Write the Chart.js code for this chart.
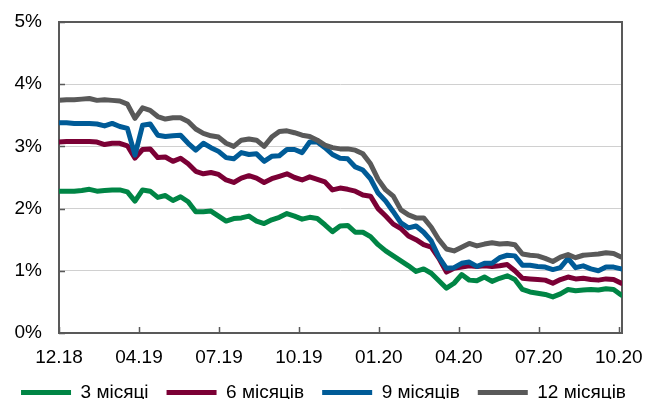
<!DOCTYPE html>
<html>
<head>
<meta charset="utf-8">
<script src="https://cdn.jsdelivr.net/npm/chart.js@4.4.1/dist/chart.umd.min.js"></script>
<style>
  html, body { margin: 0; padding: 0; background: #fff; }
  #wrap { width: 647px; height: 399px; }
</style>
</head>
<body>
<div id="wrap"><canvas id="ratesChart"></canvas></div>
<script>
/* ── Data ───────────────────────────────────────────── */
const TICK_LABELS  = ['12.18', '04.19', '07.19', '10.19', '01.20', '04.20', '07.20', '10.20'];
const SERIES_NAMES = ['3 місяці', '6 місяців', '9 місяців', '12 місяців'];
const STEP = 0.095;   // distance between points, in quarters

const m3 = [
  2.28, 2.28, 2.28, 2.29, 2.31, 2.28, 2.29, 2.30, 2.30, 2.27,
  2.12, 2.30, 2.28, 2.18, 2.21, 2.13, 2.19, 2.11, 1.95, 1.95,
  1.96, 1.88, 1.80, 1.84, 1.85, 1.88, 1.80, 1.76, 1.82, 1.86,
  1.92, 1.88, 1.83, 1.86, 1.84, 1.74, 1.63, 1.72, 1.73, 1.62,
  1.62, 1.55, 1.42, 1.32, 1.24, 1.16, 1.08, 0.99, 1.03, 0.96,
  0.84, 0.72, 0.80, 0.94, 0.85, 0.84, 0.90, 0.83, 0.88, 0.92,
  0.86, 0.70, 0.66, 0.64, 0.62, 0.58, 0.63, 0.70, 0.68, 0.69,
  0.70, 0.69, 0.71, 0.70, 0.61
];
const m6 = [
  3.07, 3.08, 3.08, 3.08, 3.08, 3.07, 3.03, 3.05, 3.05, 3.01,
  2.81, 2.95, 2.96, 2.82, 2.83, 2.76, 2.81, 2.72, 2.60, 2.56,
  2.58, 2.55, 2.46, 2.42, 2.49, 2.53, 2.49, 2.42, 2.48, 2.52,
  2.56, 2.50, 2.46, 2.51, 2.47, 2.43, 2.30, 2.33, 2.31, 2.28,
  2.22, 2.20, 2.00, 1.88, 1.75, 1.68, 1.56, 1.50, 1.42, 1.38,
  1.20, 0.98, 1.04, 1.06, 1.08, 1.07, 1.08, 1.07, 1.08, 1.10,
  1.00, 0.88, 0.87, 0.86, 0.85, 0.80, 0.86, 0.90, 0.87, 0.88,
  0.86, 0.85, 0.87, 0.86, 0.80
];
const m9 = [
  3.38, 3.38, 3.37, 3.37, 3.37, 3.36, 3.33, 3.37, 3.32, 3.29,
  2.86, 3.34, 3.36, 3.18, 3.16, 3.17, 3.18, 3.05, 2.94, 3.05,
  2.98, 2.92, 2.82, 2.80, 2.90, 2.87, 2.88, 2.76, 2.84, 2.85,
  2.95, 2.95, 2.90, 3.07, 3.07, 2.98, 2.87, 2.81, 2.80, 2.67,
  2.62, 2.48, 2.25, 2.12, 1.95, 1.77, 1.69, 1.72, 1.62, 1.48,
  1.22, 1.04, 1.05, 1.12, 1.14, 1.07, 1.12, 1.12, 1.21, 1.25,
  1.24, 1.09, 1.09, 1.07, 1.06, 1.02, 1.05, 1.20, 1.05, 1.08,
  1.03, 1.00, 1.06, 1.06, 1.03
];
const m12 = [
  3.74, 3.75, 3.75, 3.76, 3.77, 3.74, 3.75, 3.74, 3.73, 3.68,
  3.45, 3.62, 3.58, 3.48, 3.44, 3.46, 3.46, 3.40, 3.28, 3.21,
  3.17, 3.15, 3.05, 3.00, 3.10, 3.12, 3.10, 3.00, 3.15, 3.24,
  3.25, 3.22, 3.18, 3.16, 3.10, 3.02, 2.98, 2.96, 2.96, 2.94,
  2.88, 2.72, 2.47, 2.30, 2.20, 1.98, 1.90, 1.85, 1.85, 1.70,
  1.50, 1.35, 1.32, 1.38, 1.44, 1.40, 1.43, 1.45, 1.43, 1.44,
  1.42, 1.27, 1.25, 1.24, 1.20, 1.15, 1.22, 1.26, 1.21, 1.25,
  1.26, 1.27, 1.29, 1.28, 1.22
];

/* ── Styles ─────────────────────────────────────────── */
const GREEN = '#008545';
const WINE  = '#7b0035';
const BLUE  = '#005b97';
const GREY  = '#595959';
const AXIS  = '#595959';
const FONT  = "Arial, 'Liberation Sans', sans-serif";

const toPoints = arr => arr.map((v, i) => ({ x: i * STEP, y: v }));

function line(label, data, color, order) {
    return {
        label,
        data: toPoints(data),
        borderColor:      color,
        backgroundColor:  color,
        borderWidth:      5,
        borderCapStyle:   'round',
        borderJoinStyle:  'round',
        pointRadius:      0,
        tension:          0,
        order,
    };
}

/* ── Frame + inside tick marks ─────────────────────── */
const frame = {
    id: 'frame',
    beforeDatasetsDraw(chart) {
        const { ctx, chartArea: a, scales: { x, y } } = chart;
        ctx.save();
        ctx.strokeStyle = AXIS;
        ctx.lineWidth = 2;
        ctx.strokeRect(a.left, a.top, a.right - a.left, a.bottom - a.top);
        ctx.lineWidth = 1.5;
        ctx.beginPath();
        x.ticks.forEach(t => {
            const px = Math.round(x.getPixelForValue(t.value)) + 0.5;
            ctx.moveTo(px, a.bottom);
            ctx.lineTo(px, a.bottom - 6);
        });
        y.ticks.forEach(t => {
            const py = Math.round(y.getPixelForValue(t.value)) + 0.5;
            ctx.moveTo(a.left, py);
            ctx.lineTo(a.left + 6, py);
        });
        ctx.stroke();
        ctx.restore();
    }
};

new Chart(document.getElementById('ratesChart'), {
    type: 'line',
    data: {
        datasets: [
            line(SERIES_NAMES[0], m3,  GREEN, 3),
            line(SERIES_NAMES[1], m6,  WINE,  2),
            line(SERIES_NAMES[2], m9,  BLUE,  1),
            line(SERIES_NAMES[3], m12, GREY,  0),
        ]
    },
    options: {
        responsive:          true,
        maintainAspectRatio: false,
        animation:           false,
        layout: { padding: { top: 0, left: 0, right: 0, bottom: -13 } },
        plugins: {
            tooltip: { enabled: false },
            legend: {
                position: 'bottom',
                labels: {
                    usePointStyle:   true,
                    pointStyle:      'line',
                    pointStyleWidth: 50,
                    padding:         18,
                    color:           '#000',
                    font:            { family: FONT, size: 19 },
                    sort:            (a, b) => a.datasetIndex - b.datasetIndex,
                }
            }
        },
        scales: {
            x: {
                type: 'linear',
                min: 0,
                max: 7.04,
                grid:   { display: false, drawTicks: false },
                border: { display: false },
                ticks: {
                    stepSize: 1,
                    includeBounds: false,
                    autoSkip: false,
                    maxRotation: 0,
                    padding: 13,
                    color: '#000',
                    font: { family: FONT, size: 19 },
                    callback: v => TICK_LABELS[v] ?? '',
                },
                afterFit: s => { s.height = 32; s.paddingRight = 25; }
            },
            y: {
                min: 0,
                max: 5,
                grid:   { color: '#d0d0d0', lineWidth: 1, drawTicks: false },
                border: { display: false },
                ticks: {
                    stepSize: 1,
                    padding: 17,
                    color: '#000',
                    font: { family: FONT, size: 19 },
                    callback: v => v + '%',
                },
                afterFit: s => { s.width = 59; s.paddingTop = 22; }
            }
        }
    },
    plugins: [frame]
});
</script>
</body>
</html>
